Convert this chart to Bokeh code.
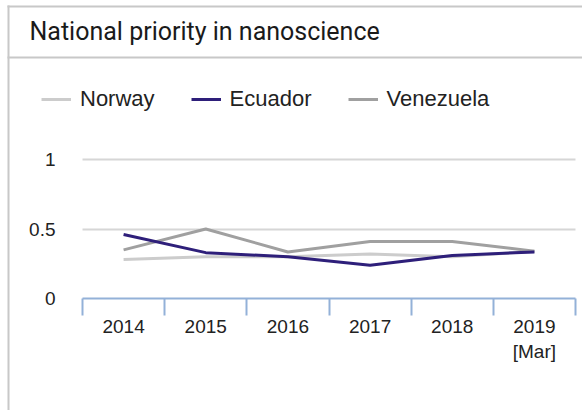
from bokeh.plotting import figure
from bokeh.models import (Range1d, FixedTicker, Legend, LegendItem, Label,
                          BoxAnnotation, LinearAxis, Grid)
from bokeh.embed import file_html
from bokeh.resources import INLINE

# ---- data ----
title_text = "National priority in nanoscience"
years = ["2014", "2015", "2016", "2017", "2018", "2019\n[Mar]"]
norway = [0.28, 0.30, 0.30, 0.32, 0.30, 0.34]
ecuador = [0.46, 0.33, 0.30, 0.24, 0.31, 0.335]
venezuela = [0.35, 0.50, 0.335, 0.41, 0.41, 0.34]
y_ticks = [0, 0.5, 1]
y_tick_labels = ["0", "0.5", "1"]

# ---- layout constants (canvas pixels) ----
W, H = 582, 410
DATA_LEFT, DATA_RIGHT = 82, 575   # x of first / last band edge
Y0_PX = 298                        # y pixel of value 0
PX_PER_UNIT = 139.0
n = len(years)
px_band = (DATA_RIGHT - DATA_LEFT) / n
xs = [i + 0.5 for i in range(n)]
bounds = list(range(n + 1))

# frame covers the whole canvas; axes are pinned with fixed_location
p = figure(width=W, height=H, output_backend="svg", toolbar_location=None,
           x_range=Range1d(-DATA_LEFT / px_band, n + (W - DATA_RIGHT) / px_band),
           y_range=Range1d(-(H - Y0_PX) / PX_PER_UNIT, Y0_PX / PX_PER_UNIT),
           min_border=0, min_border_left=0, min_border_right=0,
           min_border_top=0, min_border_bottom=0,
           x_axis_type=None, y_axis_type=None)
p.outline_line_color = None
p.background_fill_color = "white"
p.border_fill_color = "white"

TICK_FONT = "Liberation Sans"
AXIS_BLUE = "#93b1d8"
TEXT = "#222222"

# x axis: labels at band centres, minor ticks at band boundaries
xaxis = LinearAxis(
    fixed_location=0,
    ticker=FixedTicker(ticks=xs, minor_ticks=bounds),
    bounds=(0, n),
    major_label_overrides={x: lab for x, lab in zip(xs, years)},
    axis_line_color=AXIS_BLUE, axis_line_width=2,
    major_tick_line_color=None, major_tick_out=0, major_tick_in=0,
    minor_tick_line_color=AXIS_BLUE, minor_tick_line_width=2,
    minor_tick_out=17, minor_tick_in=0,
    major_label_standoff=0,
    major_label_text_font=TICK_FONT, major_label_text_font_size="19px",
    major_label_text_color=TEXT,
)
p.add_layout(xaxis, "below")

yaxis = LinearAxis(
    fixed_location=0,
    ticker=FixedTicker(ticks=y_ticks),
    bounds=(0, 1),
    major_label_overrides={t: lab for t, lab in zip(y_ticks, y_tick_labels)},
    axis_line_color=None, major_tick_line_color=None, minor_tick_line_color=None,
    major_tick_out=0, major_tick_in=0, minor_tick_out=0, minor_tick_in=0,
    major_label_standoff=DATA_LEFT - 55,
    major_label_text_font=TICK_FONT, major_label_text_font_size="19px",
    major_label_text_color=TEXT,
)
p.add_layout(yaxis, "left")

grid = Grid(dimension=1, ticker=FixedTicker(ticks=[t for t in y_ticks if t > 0]),
            cross_bounds=(0, n),
            grid_line_color="#d6d6d6", grid_line_width=2)
p.add_layout(grid)

# ---- lines ----
rn = p.line(xs, norway, line_color="#cccccc", line_width=3)
rv = p.line(xs, venezuela, line_color="#a0a0a0", line_width=3)
re = p.line(xs, ecuador, line_color="#2e1f7a", line_width=3)

legend = Legend(
    items=[LegendItem(label="Norway", renderers=[rn]),
           LegendItem(label="Ecuador", renderers=[re]),
           LegendItem(label="Venezuela", renderers=[rv])],
    orientation="horizontal", location=(41, H - 112),
    padding=0, margin=0,
    spacing=36, glyph_width=30, glyph_height=20, label_standoff=9,
    label_text_font=TICK_FONT, label_text_font_size="22px",
    label_text_color=TEXT, border_line_color=None,
    background_fill_alpha=0,
)
p.add_layout(legend)

# ---- card decoration (screen units, origin at canvas bottom-left) ----
CARD = "#c8c8c8"
def sbox(left, right, top, bottom):
    return BoxAnnotation(left=left, right=right, top=top, bottom=bottom,
                         left_units="screen", right_units="screen",
                         top_units="screen", bottom_units="screen",
                         fill_color=CARD, fill_alpha=1, line_color=None,
                         level="underlay")

p.add_layout(sbox(7, 9, H - 5, 0))          # left border
p.add_layout(sbox(7, W, H - 5, H - 7))      # top border
p.add_layout(sbox(7, W, H - 56, H - 58))    # title separator

p.add_layout(Label(x=29, y=H - 31, x_units="screen", y_units="screen",
                   text=title_text, text_font="Roboto", text_font_size="25px",
                   text_color="#1a1a1a", text_baseline="alphabetic"))

open("out.html", "w").write(file_html(p, INLINE))
